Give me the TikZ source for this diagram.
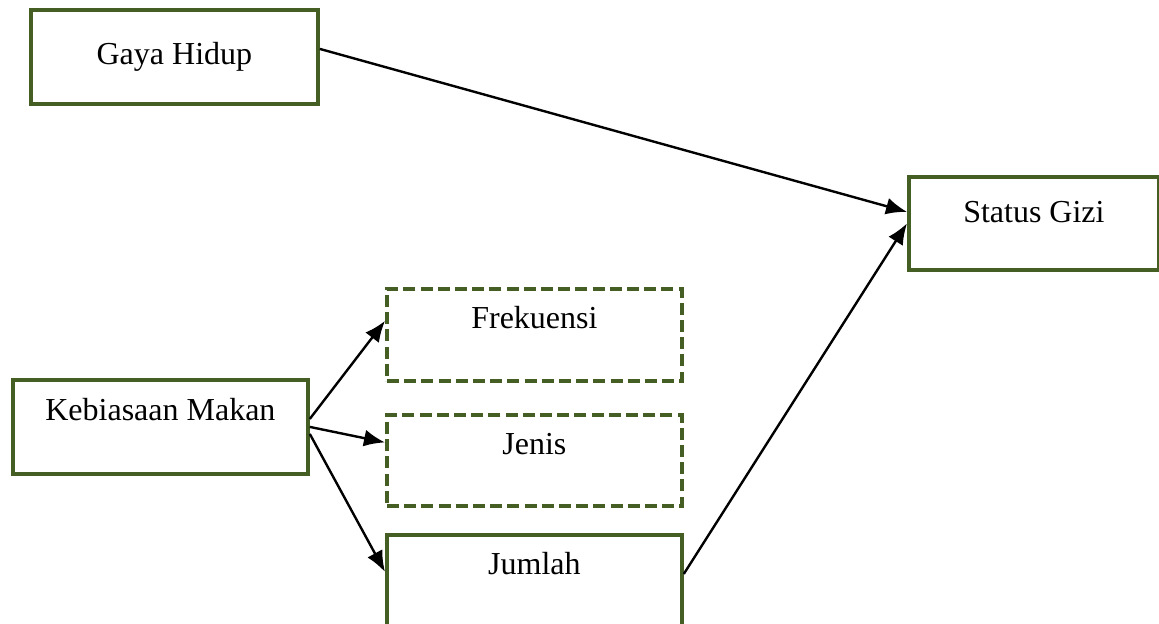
\documentclass[tikz,border=0pt]{standalone}
\usepackage{fontspec}
\setmainfont{Liberation Serif}
\usetikzlibrary{arrows.meta}
\definecolor{hijau}{RGB}{68,94,36}

\begin{document}
\begin{tikzpicture}[x=0.5pt,y=-0.5pt]
\tikzset{kotak/.style={draw=hijau, line width=1.9pt, inner sep=0pt, anchor=north west,
    font=\fontsize{16}{19}\selectfont},
  putus/.style={kotak, dash pattern=on 6pt off 2.6pt},
  panah/.style={-{Latex[length=10.5pt,width=8.5pt]}, line width=1.2pt}}
\useasboundingbox (0,0) rectangle (1159,623);

\node[kotak, minimum width=143.5pt, text height=27.5pt, text depth=19.5pt] (gaya) at (29,8) {Gaya Hidup};
\node[kotak, minimum width=125pt, text height=23pt, text depth=23.5pt] (status) at (907,175) {Status Gizi};
\node[kotak, minimum width=147.5pt, text height=20.5pt, text depth=26.5pt] (makan) at (11,378) {Kebiasaan Makan};
\node[putus, minimum width=147.5pt, text height=20pt, text depth=26pt] (frek) at (385,287) {Frekuensi};
\node[putus, minimum width=147.5pt, text height=20pt, text depth=25.5pt] (jenis) at (385,413) {Jenis};
\node[kotak, minimum width=147.5pt, text height=20pt, text depth=26pt] (jumlah) at (385,533) {Jumlah};

\draw[panah] ([yshift=4pt]gaya.east) -- ([yshift=5.75pt]status.west);
\draw[panah] ([yshift=4pt]makan.east) -- ([yshift=7pt]frek.west);
\draw[panah] (makan.east) -- ([yshift=9pt]jenis.west);
\draw[panah] ([yshift=-3.5pt]makan.east) -- ([yshift=4.5pt]jumlah.west);
\draw[panah] ([yshift=3.5pt]jumlah.east) -- (status.west);
\end{tikzpicture}
\end{document}
